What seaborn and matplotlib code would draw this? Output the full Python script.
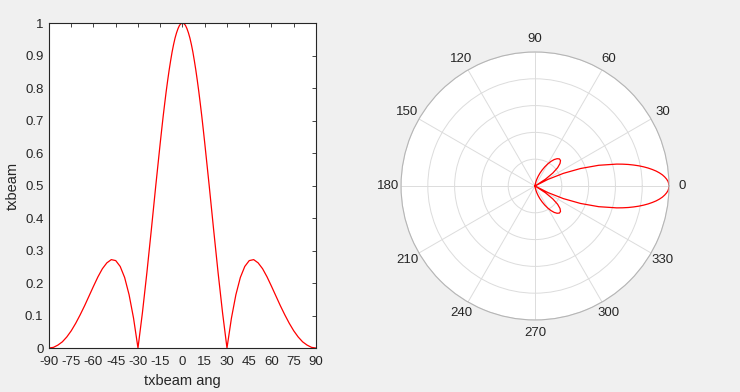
import numpy as np
import pandas as pd
import matplotlib
matplotlib.use("Agg")
import matplotlib.pyplot as plt
import seaborn as sns

# beam pattern (0..90 deg, symmetric about 0)
half_ang = [0, 1, 2, 3, 4, 5, 6, 7, 8, 9, 10, 11, 12, 13, 14, 15,
            18, 21, 24, 27, 30, 33, 36, 39, 42, 45, 48, 51, 54, 57,
            60, 63, 66, 69, 72, 75, 78, 81, 84, 87, 90]
half_val = [1.000, 0.998, 0.993, 0.983, 0.970, 0.954, 0.934, 0.911, 0.884,
            0.855, 0.823, 0.789, 0.752, 0.714, 0.673, 0.631,
            0.500, 0.364, 0.232, 0.109, 0.000, 0.092, 0.164, 0.217, 0.251,
            0.269, 0.272, 0.262, 0.244, 0.219, 0.190, 0.160, 0.130, 0.102,
            0.076, 0.053, 0.034, 0.019, 0.009, 0.002, 0.000]
ang = [-a for a in half_ang[:0:-1]] + half_ang
txbeam = half_val[:0:-1] + half_val

xticks = list(range(-90, 91, 15))
yticks = [0, 0.1, 0.2, 0.3, 0.4, 0.5, 0.6, 0.7, 0.8, 0.9, 1]
ytick_labels = ['0', '0.1', '0.2', '0.3', '0.4', '0.5', '0.6', '0.7', '0.8', '0.9', '1']
theta_ticks = list(range(0, 360, 30))
r_rings = [0.2, 0.4, 0.6, 0.8, 1.0]

df = pd.DataFrame({'ang': ang, 'txbeam': txbeam})
df['rad'] = np.deg2rad(df['ang'])

sns.set_style("white")
plt.rcParams['font.family'] = ['Liberation Sans', 'DejaVu Sans']
plt.rcParams['font.size'] = 9
txt = '#262626'

fig = plt.figure(figsize=(7.4, 3.92), dpi=100)
fig.patch.set_facecolor('#f0f0f0')

# left: cartesian plot
ax = fig.add_axes([0.0662, 0.1122, 0.3608, 0.829])
sns.lineplot(data=df, x='ang', y='txbeam', color='red', linewidth=0.9,
             sort=False, ax=ax)
ax.set_xlim(-90, 90)
ax.set_ylim(0, 1)
ax.set_xticks(xticks)
ax.set_xticklabels([str(t) for t in xticks])
ax.set_yticks(yticks)
ax.set_yticklabels(ytick_labels)
ax.tick_params(direction='in', length=3, width=0.6, top=True, right=True,
               labelcolor=txt, color=txt, labelsize=9.5)
ax.tick_params(axis='x', pad=6)
ax.tick_params(axis='y', pad=4)
for s in ax.spines.values():
    s.set_color(txt)
    s.set_linewidth(0.8)
    s.set_visible(True)
ax.set_xlabel('txbeam ang', color=txt, fontsize=10.5, labelpad=4)
ax.set_ylabel('txbeam', color=txt, fontsize=10.5, labelpad=4)

# right: polar plot
pax = fig.add_axes([0.5419, 0.1837, 0.3622, 0.6837], projection='polar')
sns.lineplot(data=df, x='rad', y='txbeam', color='red', linewidth=0.9,
             sort=False, ax=pax)
pax.set_ylim(0, 1)
pax.set_yticks(r_rings)
pax.set_yticklabels([])
pax.set_thetagrids(theta_ticks, [str(t) for t in theta_ticks])
pax.tick_params(axis='x', pad=-1, labelcolor=txt, labelsize=9.5)
pax.grid(True, color='#dcdcdc', linewidth=0.7)
pax.spines['polar'].set_color('#b5b5b5')
pax.spines['polar'].set_linewidth(0.8)
pax.set_xlabel('')
pax.set_ylabel('')

fig.savefig('out.png', dpi=100, facecolor=fig.get_facecolor())
